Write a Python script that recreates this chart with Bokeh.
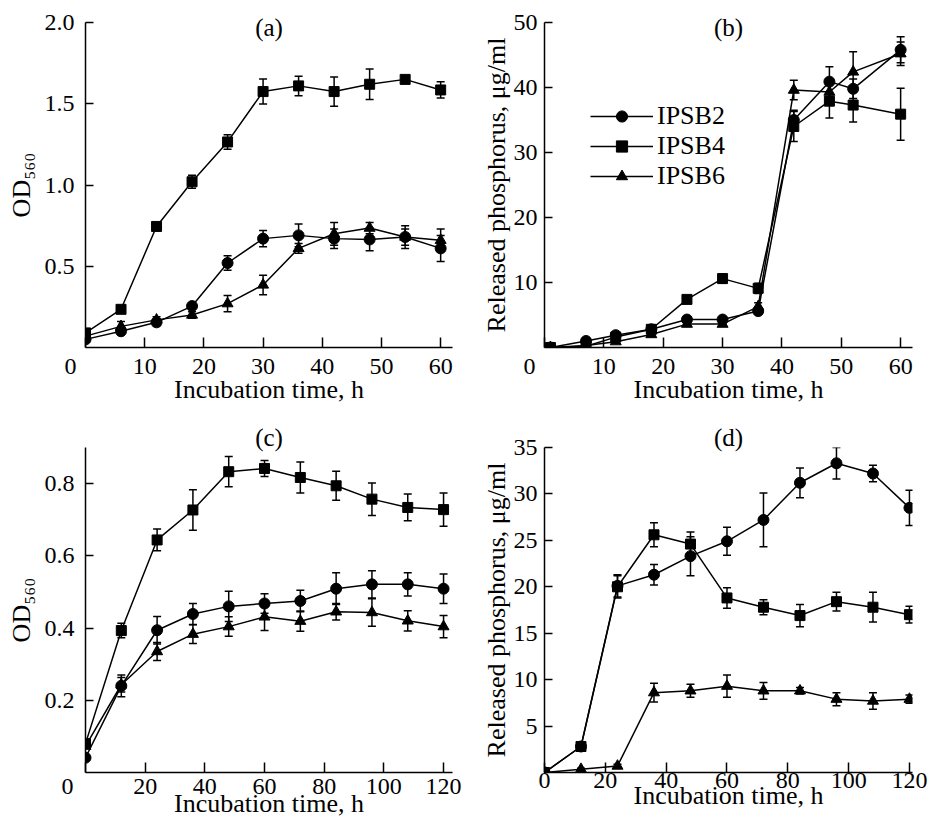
from bokeh.plotting import figure
from bokeh.models import (Range1d, FixedTicker, NumeralTickFormatter, ColumnDataSource,
                          Whisker, TeeHead, Legend, LegendItem)
from bokeh.layouts import column, row
from bokeh.embed import file_html
from bokeh.resources import INLINE

FONT = "'Liberation Serif', 'Times New Roman', 'DejaVu Serif', serif"

# ---------------- data ----------------
series_names = ["IPSB2", "IPSB4", "IPSB6"]

# (a) growth, OD560, 0-60 h
a_x = [0, 6, 12, 18, 24, 30, 36, 42, 48, 54, 60]
a_ipsb2 = [0.05, 0.10, 0.155, 0.255, 0.52, 0.67, 0.69, 0.67, 0.665, 0.68, 0.61]
a_ipsb2_err = [0.0, 0.02, 0.02, 0.02, 0.045, 0.05, 0.07, 0.06, 0.07, 0.07, 0.08]
a_ipsb4 = [0.09, 0.235, 0.745, 1.02, 1.265, 1.575, 1.61, 1.575, 1.62, 1.65, 1.585]
a_ipsb4_err = [0.0, 0.02, 0.02, 0.04, 0.045, 0.077, 0.06, 0.09, 0.094, 0.02, 0.05]
a_ipsb6 = [0.07, 0.13, 0.17, 0.20, 0.27, 0.385, 0.61, 0.70, 0.735, 0.68, 0.66]
a_ipsb6_err = [0.0, 0.03, 0.02, 0.02, 0.05, 0.06, 0.03, 0.07, 0.035, 0.05, 0.07]

# (b) released phosphorus, 0-60 h
b_x = [1, 7, 12, 18, 24, 30, 36, 42, 48, 52, 60]
b_ipsb2 = [0.0, 1.0, 1.9, 2.8, 4.3, 4.3, 5.6, 35.0, 40.9, 39.8, 45.8]
b_ipsb2_err = [0.0, 0.3, 0.3, 0.3, 0.4, 0.4, 0.5, 1.5, 2.3, 1.5, 2.0]
b_ipsb4 = [0.0, 0.2, 1.6, 2.8, 7.4, 10.6, 9.1, 34.0, 37.9, 37.3, 35.9]
b_ipsb4_err = [0.0, 0.2, 0.3, 0.3, 0.4, 0.7, 0.8, 2.3, 2.6, 2.6, 4.0]
b_ipsb6 = [0.0, 0.3, 0.9, 2.0, 3.6, 3.6, 6.3, 39.6, 39.3, 42.4, 45.2]
b_ipsb6_err = [0.0, 0.2, 0.2, 0.3, 0.3, 0.3, 0.6, 1.5, 1.5, 3.1, 1.8]

# (c) growth, OD560, 0-120 h
c_x = [0, 12, 24, 36, 48, 60, 72, 84, 96, 108, 120]
c_ipsb2 = [0.041, 0.24, 0.394, 0.439, 0.46, 0.468, 0.475, 0.509, 0.521, 0.521, 0.509]
c_ipsb2_err = [0.0, 0.03, 0.038, 0.029, 0.042, 0.027, 0.03, 0.044, 0.038, 0.032, 0.041]
c_ipsb4 = [0.08, 0.393, 0.644, 0.727, 0.833, 0.842, 0.817, 0.794, 0.757, 0.734, 0.728]
c_ipsb4_err = [0.0, 0.02, 0.03, 0.056, 0.042, 0.022, 0.043, 0.04, 0.045, 0.037, 0.046]
c_ipsb6 = [0.073, 0.243, 0.335, 0.383, 0.404, 0.431, 0.419, 0.445, 0.443, 0.42, 0.404]
c_ipsb6_err = [0.0, 0.02, 0.025, 0.026, 0.027, 0.038, 0.028, 0.023, 0.038, 0.028, 0.031]

# (d) released phosphorus, 0-120 h
d_x = [0, 12, 24, 36, 48, 60, 72, 84, 96, 108, 120]
d_ipsb2 = [0.0, 2.8, 20.1, 21.3, 23.3, 24.9, 27.2, 31.2, 33.3, 32.2, 28.5]
d_ipsb2_err = [0.0, 0.3, 1.2, 1.1, 2.1, 1.5, 2.9, 1.6, 1.7, 0.9, 1.9]
d_ipsb4 = [0.0, 2.8, 20.0, 25.6, 24.6, 18.8, 17.8, 16.9, 18.4, 17.8, 17.0]
d_ipsb4_err = [0.0, 0.3, 1.2, 1.3, 1.3, 1.1, 0.8, 1.2, 1.0, 1.6, 0.9]
d_ipsb6 = [0.0, 0.35, 0.7, 8.6, 8.8, 9.3, 8.8, 8.8, 7.9, 7.7, 7.9]
d_ipsb6_err = [0.0, 0.1, 0.2, 1.0, 0.7, 1.2, 0.9, 0.35, 0.7, 0.9, 0.45]

a_xticks = [0, 10, 20, 30, 40, 50, 60]
a_yticks = [0.5, 1.0, 1.5, 2.0]
b_xticks = [0, 10, 20, 30, 40, 50, 60]
b_yticks = [10, 20, 30, 40, 50]
c_xticks = [0, 20, 40, 60, 80, 100, 120]
c_yticks = [0.2, 0.4, 0.6, 0.8]
d_xticks = [0, 20, 40, 60, 80, 100, 120]
d_yticks = [5, 10, 15, 20, 25, 30, 35]

XLABEL = "Incubation time, h"
PLABEL = "Released phosphorus, \u03bcg/ml"
ODLABEL = "OD\u2085\u2086\u2080"
NBSP = "\u00a0"

MARKERS = {"IPSB2": ("circle", 11), "IPSB4": ("square", 10), "IPSB6": ("triangle", 11)}


def make_fig(width, height, bl, br, bt, bb, xr, yr, xticks, yticks, yfmt,
             ylabel, ylab_std, y_std, x_std, xlab_std, title, title_std, zero_pad):
    p = figure(width=width, height=height, x_range=Range1d(*xr), y_range=Range1d(*yr),
               output_backend="svg", toolbar_location=None,
               min_border_left=bl, min_border_right=br, min_border_top=bt, min_border_bottom=bb)
    p.outline_line_color = None
    p.xgrid.visible = False
    p.ygrid.visible = False
    p.background_fill_color = "white"
    p.border_fill_color = "white"
    p.xaxis.ticker = FixedTicker(ticks=xticks)
    p.yaxis.ticker = FixedTicker(ticks=yticks)
    if yfmt:
        p.yaxis.formatter = NumeralTickFormatter(format=yfmt)
    if zero_pad:
        p.xaxis.major_label_overrides = {0: "0" + NBSP * zero_pad}
    for ax in (p.xaxis[0], p.yaxis[0]):
        ax.axis_line_width = 1.5
        ax.axis_line_color = "black"
        ax.major_tick_line_width = 1.5
        ax.major_tick_line_color = "black"
        ax.major_tick_out = 0
        ax.minor_tick_in = 0
        ax.minor_tick_out = 0
        ax.major_label_text_font = FONT
        ax.major_label_text_font_size = "24px"
        ax.major_label_text_color = "black"
        ax.axis_label_text_font = FONT
        ax.axis_label_text_font_size = "26px"
        ax.axis_label_text_font_style = "normal"
        ax.axis_label_text_color = "black"
    p.xaxis.major_tick_in = 10
    p.yaxis.major_tick_in = 8
    p.yaxis.major_label_standoff = y_std
    p.xaxis.major_label_standoff = x_std
    p.xaxis.axis_label = XLABEL
    p.xaxis.axis_label_standoff = xlab_std
    p.yaxis.axis_label = ylabel
    p.yaxis.axis_label_standoff = ylab_std
    p.title.text = title
    p.title.align = "center"
    p.title.text_font = FONT
    p.title.text_font_size = "25px"
    p.title.text_font_style = "normal"
    p.title.text_color = "black"
    p.title.standoff = title_std
    return p


def add_series(p, x, y, err, name):
    marker, size = MARKERS[name]
    src = ColumnDataSource(dict(x=x, y=y,
                                lo=[v - e for v, e in zip(y, err)],
                                hi=[v + e for v, e in zip(y, err)]))
    w = Whisker(source=src, base="x", upper="hi", lower="lo",
                line_color="black", line_width=1.5,
                upper_head=TeeHead(size=8, line_color="black", line_width=1.5),
                lower_head=TeeHead(size=8, line_color="black", line_width=1.5))
    p.add_layout(w)
    l = p.line("x", "y", source=src, line_color="black", line_width=1.5)
    s = p.scatter("x", "y", source=src, marker=marker, size=size,
                  fill_color="black", line_color="black")
    return l, s


# ---------------- (a) ----------------
pa = make_fig(465, 416, 85, 13, 22, 69, (0, 62), (0, 2.0), a_xticks, a_yticks, "0.0",
              ODLABEL, 6, 11, 5, -7, "(a)", -36, 5)
for nm, yv, ev in zip(series_names, [a_ipsb2, a_ipsb4, a_ipsb6], [a_ipsb2_err, a_ipsb4_err, a_ipsb6_err]):
    add_series(pa, a_x, yv, ev, nm)

# ---------------- (b) ----------------
pb = make_fig(465, 416, 79, 18, 21, 69, (0, 62), (0, 50), b_xticks, b_yticks, None,
              PLABEL, 0, 7, 5, -7, "(b)", -36, 5)
items = []
for nm, yv, ev in zip(series_names, [b_ipsb2, b_ipsb4, b_ipsb6], [b_ipsb2_err, b_ipsb4_err, b_ipsb6_err]):
    l, s = add_series(pb, b_x, yv, ev, nm)
    items.append(LegendItem(label=nm, renderers=[l, s]))
legend = Legend(items=items, location=(46, 156), glyph_width=63, glyph_height=28,
                label_height=28, label_standoff=4, spacing=0, padding=0, margin=0,
                border_line_color=None, background_fill_alpha=0,
                label_text_font=FONT, label_text_font_size="26px", label_text_color="black",
                label_text_line_height=1.0)
pb.add_layout(legend)

# ---------------- (c) ----------------
pc = make_fig(465, 416, 85, 13, 31, 59, (0, 123), (0, 0.9), c_xticks, c_yticks, "0.0",
              ODLABEL, 6, 11, 0, -13, "(c)", -6, 6)
for nm, yv, ev in zip(series_names, [c_ipsb2, c_ipsb4, c_ipsb6], [c_ipsb2_err, c_ipsb4_err, c_ipsb6_err]):
    add_series(pc, c_x, yv, ev, nm)

# ---------------- (d) ----------------
pd_ = make_fig(465, 416, 79, 18, 30, 60, (0, 121), (0, 35), d_xticks, d_yticks, None,
               PLABEL, 0, 7, 0, -10, "(d)", -6, 0)
for nm, yv, ev in zip(series_names, [d_ipsb2, d_ipsb4, d_ipsb6], [d_ipsb2_err, d_ipsb4_err, d_ipsb6_err]):
    add_series(pd_, d_x, yv, ev, nm)

layout = column(row(pa, pb), row(pc, pd_))

with open("out.html", "w") as f:
    f.write(file_html(layout, INLINE))
